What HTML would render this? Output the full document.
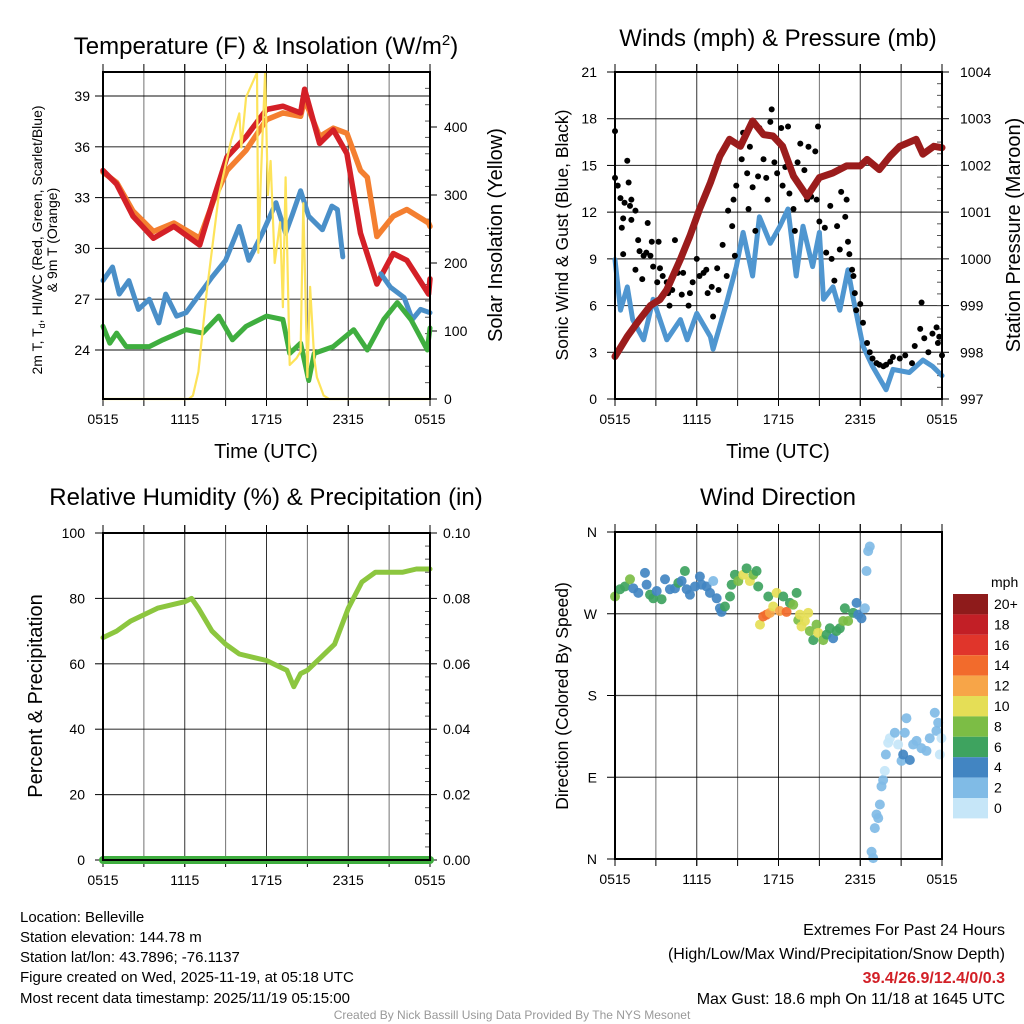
<!DOCTYPE html>
<html><head><meta charset="utf-8">
<style>
html,body{margin:0;padding:0;background:#fff;}
svg{display:block;font-family:"Liberation Sans",Arial,sans-serif;}
</style></head>
<body>
<svg id="c" width="1024" height="1024" viewBox="0 0 1024 1024" xmlns="http://www.w3.org/2000/svg">
<rect width="1024" height="1024" fill="#fff"/>
<g id="g1"></g>
<g id="g2"></g>
<g id="g3"></g>
<g id="g4"></g>
<g id="txt">
<text x="266" y="54" font-size="24" text-anchor="middle">Temperature (F) &amp; Insolation (W/m<tspan font-size="15" dy="-9">2</tspan><tspan dy="9">)</tspan></text>
<text x="778" y="46" font-size="24" text-anchor="middle">Winds (mph) &amp; Pressure (mb)</text>
<text x="266" y="505" font-size="24" text-anchor="middle">Relative Humidity (%) &amp; Precipitation (in)</text>
<text x="778" y="505" font-size="24" text-anchor="middle">Wind Direction</text>
<text x="266" y="458" font-size="20" text-anchor="middle">Time (UTC)</text>
<text x="778" y="458" font-size="20" text-anchor="middle">Time (UTC)</text>
<text transform="translate(42,240) rotate(-90)" font-size="14" text-anchor="middle">2m T, T<tspan font-size="9" dy="3">d</tspan><tspan dy="-3">, HI/WC (Red, Green, Scarlet/Blue)</tspan></text>
<text transform="translate(57,240) rotate(-90)" font-size="14" text-anchor="middle">&amp; 9m T (Orange)</text>
<text transform="translate(502,235) rotate(-90)" font-size="20" text-anchor="middle">Solar Insolation (Yellow)</text>
<text transform="translate(568,235) rotate(-90)" font-size="17.5" text-anchor="middle">Sonic Wind &amp; Gust (Blue, Black)</text>
<text transform="translate(1020,235) rotate(-90)" font-size="20" text-anchor="middle">Station Pressure (Maroon)</text>
<text transform="translate(42,696) rotate(-90)" font-size="20" text-anchor="middle">Percent &amp; Precipitation</text>
<text transform="translate(568,696) rotate(-90)" font-size="17.5" text-anchor="middle">Direction (Colored By Speed)</text>
<g font-size="15">
<text x="20" y="922">Location: Belleville</text>
<text x="20" y="942">Station elevation: 144.78 m</text>
<text x="20" y="962">Station lat/lon: 43.7896; -76.1137</text>
<text x="20" y="982">Figure created on Wed, 2025-11-19, at 05:18 UTC</text>
<text x="20" y="1003">Most recent data timestamp: 2025/11/19 05:15:00</text>
</g>
<g font-size="16" text-anchor="end">
<text x="1005" y="935">Extremes For Past 24 Hours</text>
<text x="1005" y="959">(High/Low/Max Wind/Precipitation/Snow Depth)</text>
<text x="1005" y="983" font-weight="bold" fill="#d22027">39.4/26.9/12.4/0/0.3</text>
<text x="1005" y="1004">Max Gust: 18.6 mph On 11/18 at 1645 UTC</text>
</g>
<text x="512" y="1019" font-size="12" fill="#999" text-anchor="middle">Created By Nick Bassill Using Data Provided By The NYS Mesonet</text>
</g>
</svg>
<script>
// ---- Temperature panel data (hours since 0515 UTC) ----
const redH=[0,1,2.2,3.7,5.2,7.1,8.1,9.1,10.5,12.0,13.2,14.5,14.8,15.9,16.9,17.9,18.9,20.1,21.3,22.3,23.9,24];
const redV=[34.6,33.8,31.9,30.6,31.3,30.2,32.9,35.4,36.6,38.2,38.4,38,39.4,36.2,37,35.6,30.9,27.9,29.7,29.3,27.3,28.2];
const orH=[0,1,2.2,3.7,5.2,7.1,8.1,9.1,10.5,12.0,13.2,14.5,14.8,15.9,16.9,17.9,18.9,19.4,20.1,21.3,22.3,23.9,24];
const orV=[34.5,33.9,32.2,31.0,31.5,30.6,32.8,34.6,35.8,37.6,38.0,37.8,38.8,36.6,37.1,36.8,34.6,34.2,30.7,31.9,32.3,31.5,31.3];
const bluH=[0,0.7,1.2,1.9,2.6,3.4,4.1,4.6,5.4,6.1,7.1,8.0,9.0,10.0,10.7,11.7,12.7,13.4,13.9,14.5,15.1,16.1,16.8,17.2,17.6];
const bluV=[28.1,28.9,27.3,28.1,26.4,27,25.6,27.3,26,26.2,27.3,28.3,29.3,31.3,29.3,30.9,32.7,30.9,32,33.4,31.9,31.1,32.5,32.3,29.5];
const blu2H=[20.4,21.1,22.1,22.7,23.3,24];
const blu2V=[28.5,27.7,27.1,25.8,26.4,26.2];
const grnH=[0,0.5,1,1.7,3.4,4.4,6.1,7.3,8.5,9.5,10.5,12,13.2,13.7,14.5,15.1,15.5,16.9,18.4,19.4,20.6,21.6,22.6,23.8,24];
const grnV=[25.4,24.4,25,24.2,24.2,24.6,25.2,25,26,24.6,25.4,26,25.8,23.8,24.4,22.2,23.8,24.2,25.2,24,25.8,26.8,25.8,24,25.3];
const solH=[0,6.3,6.6,7.0,7.6,8.5,9.4,10.0,10.15,10.5,11.3,11.4,11.6,11.9,12.1,12.3,12.6,13.0,13.2,13.4,13.7,14.2,14.5,14.7,15.0,15.2,15.5,15.7,16.2,16.6,24];
const solV=[0,0,5,40,156,300,380,420,370,444,480,215,330,480,300,350,200,260,135,326,50,60,70,288,32,165,60,32,5,0,0];
const tTicks=[24,27,30,33,36,39];
const sTicks=[0,100,200,300,400];
// ---- Wind panel data ----
const presH=[0,0.9,1.8,2.6,3.3,3.8,4.8,5.5,6.2,7.0,7.7,8.4,9.2,10.1,10.9,11.6,12.3,13.1,14.1,15.0,16.0,17.0,18.0,18.5,19.4,20.2,20.9,22.1,22.6,23.4,24];
const presV=[997.91,998.34,998.7,999.0,999.13,999.34,999.99,1000.49,1001.06,1001.63,1002.2,1002.56,1002.41,1002.95,1002.66,1002.63,1002.41,1001.77,1001.34,1001.74,1001.84,1001.99,1001.99,1002.13,1001.91,1002.2,1002.41,1002.56,1002.24,1002.41,1002.38];
const windH=[0,0.4,0.9,1.3,2.1,2.8,3.8,4.8,5.3,6.0,7.0,7.2,8.2,8.9,9.4,10.1,10.6,11.4,12.1,12.7,13.3,13.8,14.5,15.0,15.3,16.0,16.5,17.1,17.5,18.2,18.9,19.9,20.4,21.6,22.6,23.3,24];
const windV=[8.95,5.7,7.2,5.1,3.8,6.4,3.8,5.1,3.8,5.5,4,3.2,6.2,8.5,10.7,7.9,11.7,10,11.1,12.2,7.9,11.1,8.5,10.7,6.4,7.2,5.7,8.3,6.4,3.4,2.1,0.6,1.9,1.7,2.5,2.1,1.5];
const gustH=[0,0,0.2,0.4,0.5,0.6,0.6,0.9,1.0,0.7,1.1,1.2,1.2,1.5,1.5,1.7,1.8,2.0,2.1,2.3,2.4,2.6,2.7,2.8,3.1,3.2,3.3,3.5,3.8,3.9,4.0,4.2,4.4,4.6,4.9,5.0,5.4,5.5,5.7,6.0,6.2,6.5,6.7,6.8,7.1,7.2,7.5,7.6,7.9,8.2,8.3,8.6,8.7,8.8,8.9,9.3,9.4,9.7,9.8,9.9,10.1,10.3,10.5,10.6,10.9,11.1,11.2,11.4,11.5,11.7,11.9,12.2,12.3,12.5,12.7,12.8,13.1,13.2,13.4,13.6,13.9,14.1,14.2,14.4,14.7,14.8,14.9,15.0,15.4,15.5,15.8,15.9,16.1,16.3,16.5,16.6,16.9,17.0,17.1,17.2,17.4,17.5,17.6,17.7,18.0,18.2,18.5,18.7,18.9,19.2,19.4,19.7,19.9,20.2,20.4,20.9,21.3,21.8,22.0,22.4,22.5,22.7,23.0,23.3,23.6,23.7,23.8,24.0];
const gustV=[17.2,14.2,13.7,12.9,11.0,11.6,9.3,15.3,13.9,12.6,12.4,12.8,11.5,12.1,8.3,10.2,9.5,7.7,9.2,9.4,11.3,9.2,10.1,8.5,7.5,10.1,8.4,7.9,7.5,6.8,6.0,7.0,10.2,8.1,6.7,8.1,6.0,6.8,7.5,9.0,7.9,8.1,8.3,6.8,7.2,5.3,8.4,7.0,9.9,7.9,12.1,11.1,12.8,9.2,13.7,15.4,17.1,14.5,12.2,16.2,13.6,10.8,14.3,17.4,15.4,14.2,12.8,17.8,18.6,15.2,14.5,17.4,13.7,14.9,17.5,13.2,12.2,10.8,15.2,16.4,14.7,12.8,16.2,13.0,15.9,12.8,17.5,11.4,11.0,9.4,12.4,9.0,7.6,11.1,9.6,13.3,11.7,12.8,10.1,9.3,8.3,7.9,6.8,5.7,6.1,4.9,3.6,3.0,2.6,2.3,2.2,2.1,2.2,2.4,2.7,2.6,2.8,2.3,3.4,4.5,6.2,3.9,3.0,4.2,4.6,3.6,4.0,2.8];
const wTicks=[0,3,6,9,12,15,18,21];
const pTicks=[997,998,999,1000,1001,1002,1003,1004];
// ---- Humidity panel data ----
const rhH=[0,1,2,3,4,5,6,6.5,7,8,9,10,11,12,13,13.5,14,14.5,15,16,17,18,19,20,21,22,23,24];
const rhV=[68,70,73,75,77,78,79,80,77,70,66,63,62,61,59,58,53,57,58,62,66,77,85,88,88,88,89,89];
const prH=[0,24];
const prV=[0,0];
const rhTicks=[0,20,40,60,80,100];
const prTicks=["0.00","0.02","0.04","0.06","0.08","0.10"];
// ---- Wind direction data ----
const wdH=[0,0.37,0.73,1.1,1.34,1.71,2.2,2.32,2.57,2.81,3.06,3.42,3.67,4.03,4.4,4.65,4.89,5.13,5.26,5.5,5.87,6.23,6.36,6.72,6.97,7.21,7.46,7.7,7.82,8.07,8.44,8.56,8.8,9.05,9.41,9.66,9.9,10.15,10.39,10.51,10.64,10.88,11.12,11.25,11.37,11.61,11.86,12.1,12.35,12.59,12.84,13.08,13.33,13.45,13.57,13.69,13.94,14.18,14.3,14.55,14.79,14.91,15.28,15.53,15.77,16.01,16.26,16.5,16.75,16.87,17.11,17.48,17.73,17.85,18.09,18.34,18.46,18.58,18.7,18.83,18.95,19.07,19.19,19.32,19.44,19.56,19.68,19.8,19.88,20.05,20.17,20.54,20.78,21.03,21.15,21.39,21.27,21.64,21.88,22.13,22.49,22.86,23.1,23.47,23.59,23.72,23.84,23.96];
const wdDir=[289,297,300,308,298,293,315,302,291,287,295,286,308,297,298,304,306,317,297,291,300,311,302,300,293,306,287,276,272,278,289,302,313,306,313,320,306,313,317,300,258,267,269,289,271,278,293,273,289,272,282,280,293,263,269,256,262,271,251,241,258,249,241,247,254,243,251,254,262,276,262,271,282,269,265,276,317,339,344,8,1,34,49,45,60,80,87,97,115,128,133,139,126,108,115,155,139,109,126,130,122,119,133,161,141,150,115,133];
const wdSpd=[8,6,6,8,4,4,4,4,6,6,4,6,4,4,4,6,4,6,4,4,4,4,4,4,4,2,4,4,4,6,6,6,6,8,10,6,10,8,6,6,10,14,14,6,12,10,10,12,6,14,6,8,6,8,10,10,10,10,8,6,8,10,8,6,6,4,6,6,8,6,8,6,4,4,4,2,2,2,2,2,2,2,2,2,2,2,2,0,2,0,0,2,0,2,4,2,2,4,2,2,2,2,2,2,2,2,0,0];
const dirTicks=["N","E","S","W","N"];
const xTickLabels=["0515","1115","1715","2315","0515"];
const cbLabels=["20+","18","16","14","12","10","8","6","4","2","0"];
const cbColors=["#8e1b1b","#c21f26","#e0352b","#f26b2c","#f7a548","#e5de56","#7cbd45","#3ea35f","#4285c2","#80bbe6","#c6e6f8"];

const NS="http://www.w3.org/2000/svg";
function mk(parent,tag,attrs){const e=document.createElementNS(NS,tag);for(const k in attrs)e.setAttribute(k,attrs[k]);parent.appendChild(e);return e;}
function lin(d0,d1,r0,r1){return v=>r0+(v-d0)*(r1-r0)/(d1-d0);}
function spdColor(s){const i=Math.min(10,Math.max(0,Math.round(s/2)));return cbColors[10-i];}

function frame(g,x0,y0,x1,y1,nL,rightMinor){
  for(let k=1;k<8;k++){const x=x0+(x1-x0)*k/8;
    const l=mk(g,'line',{x1:x,y1:y0,x2:x,y2:y1,stroke:'#000','stroke-width':1,opacity:k%2?0.55:0.8});
    
    
    mk(g,'line',{x1:x,y1:y0-8,x2:x,y2:y0,stroke:'#000','stroke-width':1});
    mk(g,'line',{x1:x,y1:y1,x2:x,y2:y1+7,stroke:'#000','stroke-width':1});}
  for(let k=0;k<=8;k+=2){const x=x0+(x1-x0)*k/8;
    mk(g,'line',{x1:x,y1:y0-8,x2:x,y2:y0,stroke:'#000','stroke-width':1});
    mk(g,'line',{x1:x,y1:y1,x2:x,y2:y1+7,stroke:'#000','stroke-width':1});}
  if(nL>0){
  for(let k=1;k<nL;k++){const y=y1-(y1-y0)*k/nL;
    const l=mk(g,'line',{x1:x0,y1:y,x2:x1,y2:y,stroke:'#000','stroke-width':1.2,opacity:0.75});
    
    }
  for(let k=0;k<=nL;k++){const y=y1-(y1-y0)*k/nL;mk(g,'line',{x1:x0-8,y1:y,x2:x0,y2:y,stroke:'#000','stroke-width':1});}
  }
  if(rightMinor){for(let k=0;k<=rightMinor;k++){const y=y1-(y1-y0)*k/rightMinor;mk(g,'line',{x1:x1-5,y1:y,x2:x1,y2:y,stroke:'#555','stroke-width':1});}}
  xTickLabels.forEach((t,i)=>{const tx=mk(g,'text',{x:x0+(x1-x0)*i/4,y:y1+25,'font-size':14,'text-anchor':'middle'});tx.textContent=t;
    
    });
}
function border(g,x0,y0,x1,y1){const r=mk(g,'rect',{x:x0,y:y0,width:x1-x0,height:y1-y0,fill:'none',stroke:'#000','stroke-width':2});
  
  }
function path(g,H,V,sx,sy,col,w,name){let d='';H.forEach((h,i)=>{d+=(i?'L':'M')+sx(h).toFixed(1)+','+sy(V[i]).toFixed(1);});
  const p=mk(g,'path',{d:d,fill:'none',stroke:col,'stroke-width':w,'stroke-linejoin':'round','stroke-linecap':'round'});
  
  return p;}

// Panel 1
(function(){const g=document.getElementById('g1');const x0=103,x1=430,y0=72,y1=399;
 const sx=lin(0,24,x0,x1),sy=lin(24,39,350,96),ss=lin(0,400,399,127);
 frame(g,x0,y0,x1,y1,0,20);
 tTicks.forEach(v=>{const y=sy(v);const l=mk(g,'line',{x1:x0,y1:y,x2:x1,y2:y,stroke:'#000','stroke-width':1.2,opacity:0.75});
   
   mk(g,'line',{x1:x0-8,y1:y,x2:x0,y2:y,stroke:'#000'});
   const t=mk(g,'text',{x:x0-13,y:y+5,'font-size':14,'text-anchor':'end'});t.textContent=v;
   });
 sTicks.forEach(v=>{const y=ss(v);mk(g,'line',{x1:x1,y1:y,x2:x1+7,y2:y,stroke:'#000'});
   const t=mk(g,'text',{x:x1+14,y:y+5,'font-size':14});t.textContent=v;
   });
 path(g,orH,orV,sx,sy,'#f47f30',5.5,'9m-temperature-line');
 path(g,redH,redV,sx,sy,'#d42027',5.5,'2m-temperature-line');
 path(g,bluH,bluV,sx,sy,'#4a8fc8',5,'dewpoint-line');
 path(g,blu2H,blu2V,sx,sy,'#4a8fc8',5,'dewpoint-line-late');
 path(g,grnH,grnV,sx,sy,'#3fae3f',5,'wind-chill-line');
 path(g,solH,solV,sx,ss,'#fde35a',2.2,'insolation-line');
 border(g,x0,y0,x1,y1);})();

// Panel 2
(function(){const g=document.getElementById('g2');const x0=615,x1=942,y0=72,y1=399;
 const sx=lin(0,24,x0,x1),sy=lin(0,21,y1,y0),sp=lin(997,1004,y1,y0);
 frame(g,x0,y0,x1,y1,7,28);
 wTicks.forEach(v=>{const t=mk(g,'text',{x:x0-18,y:sy(v)+5,'font-size':14,'text-anchor':'end'});t.textContent=v;
   });
 pTicks.forEach(v=>{mk(g,'line',{x1:x1,y1:sp(v),x2:x1+7,y2:sp(v),stroke:'#000'});
   const t=mk(g,'text',{x:x1+18,y:sp(v)+5,'font-size':14});t.textContent=v;
   });
 path(g,windH,windV,sx,sy,'#4f96d0',5,'wind-speed-line');
 gustH.forEach((h,i)=>{const c=mk(g,'circle',{cx:sx(h),cy:sy(gustV[i]),r:3,fill:'#000'});
   });
 path(g,presH,presV,sx,sp,'#9b1c1c',7,'pressure-line');
 border(g,x0,y0,x1,y1);})();

// Panel 3
(function(){const g=document.getElementById('g3');const x0=103,x1=430,y0=533,y1=860;
 const sx=lin(0,24,x0,x1),sy=lin(0,100,y1,y0),spr=lin(0,0.1,y1,y0);
 frame(g,x0,y0,x1,y1,5,25);
 rhTicks.forEach(v=>{const t=mk(g,'text',{x:x0-18,y:sy(v)+5,'font-size':14,'text-anchor':'end'});t.textContent=v;
   });
 prTicks.forEach(v=>{const y=spr(parseFloat(v));mk(g,'line',{x1:x1,y1:y,x2:x1+7,y2:y,stroke:'#000'});
   const t=mk(g,'text',{x:x1+13,y:y+5,'font-size':14});t.textContent=v;
   });
 path(g,rhH,rhV,sx,sy,'#8cc63f',5,'humidity-line');
 path(g,prH,prV,sx,spr,'#3fae3f',8,'precipitation-line');
 border(g,x0,y0,x1,y1);})();

// Panel 4
(function(){const g=document.getElementById('g4');const x0=615,x1=942,y0=532,y1=859;
 const sx=lin(0,24,x0,x1),sy=lin(0,360,y1,y0);
 frame(g,x0,y0,x1,y1,4,0);
 dirTicks.forEach((v,i)=>{const t=mk(g,'text',{x:x0-18,y:sy(i*90)+5,'font-size':14,'text-anchor':'end'});t.textContent=v;
   });
 wdH.forEach((h,i)=>{const c=mk(g,'circle',{cx:sx(h),cy:sy(wdDir[i]),r:5,fill:spdColor(wdSpd[i]),opacity:0.92});
   });
 border(g,x0,y0,x1,y1);
 const cb=mk(g,'g',{});
 
 const t0=mk(cb,'text',{x:991,y:587,'font-size':14});t0.textContent='mph';
 cbColors.forEach((c,i)=>{const y=594+i*20.4;
   const r=mk(cb,'rect',{x:953,y:y,width:35,height:20.4,fill:c});
   
   const t=mk(cb,'text',{x:994,y:y+15,'font-size':14});t.textContent=cbLabels[i];
   });
})();
</script>
</body></html>
